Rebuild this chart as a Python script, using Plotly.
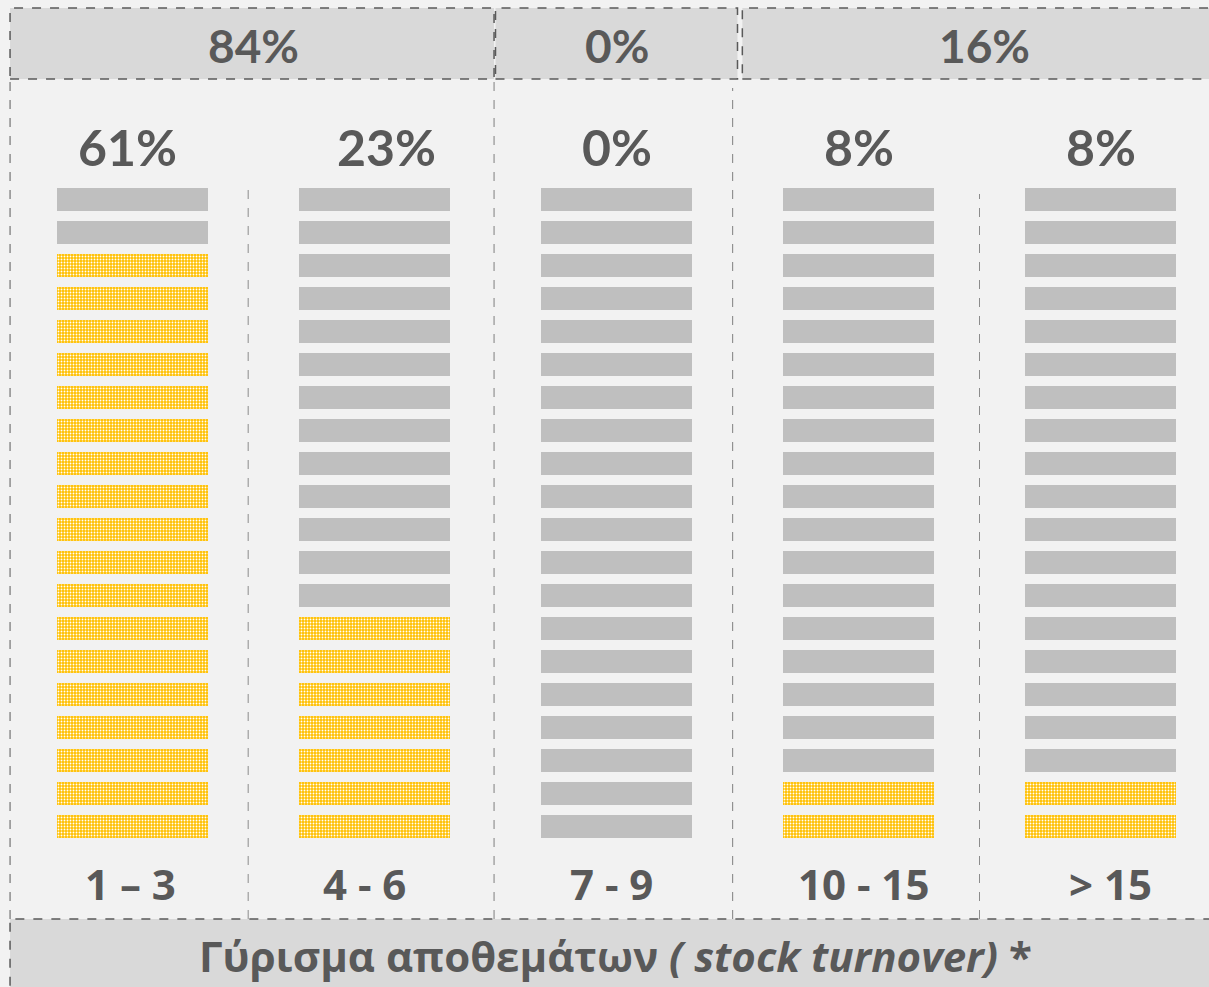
import plotly.graph_objects as go

# --- data ---
columns = ["1 – 3", "4 - 6", "7 - 9", "10 - 15", "> 15"]
column_pcts = ["61%", "23%", "0%", "8%", "8%"]
filled_segments = [18, 7, 0, 2, 2]   # yellow segments per column, counted from the bottom
total_segments = 20

group_labels = ["84%", "0%", "16%"]
group_spans = [(0, 1), (2, 2), (3, 4)]   # first and last column of each group
footer_text = "Γύρισμα αποθεμάτων <i>( stock turnover)</i> *"

W, H = 1209, 987
BG = "#f2f2f2"
GREY_BAR = "#bfbfbf"
YELLOW = "#ffc000"
TEXT = "#595959"
seg_h = 0.7


def py(px):  # pixel row -> paper y
    return 1 - px / H


fig = go.Figure()

gx, gb, yx, yb = [], [], [], []
for c, n in enumerate(filled_segments):
    for i in range(total_segments):
        if i < n:
            yx.append(c)
            yb.append(i)
        else:
            gx.append(c)
            gb.append(i)

fig.add_trace(go.Bar(x=gx, y=[seg_h] * len(gx), base=gb, width=0.624,
                     marker=dict(color=GREY_BAR, line=dict(width=0)),
                     hoverinfo="skip", showlegend=False))
fig.add_trace(go.Bar(x=yx, y=[seg_h] * len(yx), base=yb, width=0.624,
                     marker=dict(color=YELLOW, line=dict(width=0),
                                 pattern=dict(shape=".", size=3, solidity=0.3,
                                              fgcolor="white", bgcolor=YELLOW,
                                              fgopacity=1)),
                     hoverinfo="skip", showlegend=False))

shapes = []
annotations = []


def label(x, y, text, family, size, xref="x"):
    annotations.append(dict(x=x, y=y, xref=xref, yref="paper", text=text,
                            showarrow=False, xanchor="center", yanchor="middle",
                            font=dict(family=family, size=size, color=TEXT)))


# group header boxes
left_edges = [-0.506, 1.5, 2.52]
right_edges = [1.494, 2.50, 4.6]
for (a, b), lab, x0, x1 in zip(group_spans, group_labels, left_edges, right_edges):
    shapes.append(dict(type="rect", xref="x", yref="paper", x0=x0, x1=x1,
                       y0=py(79), y1=py(8), fillcolor="#d9d9d9",
                       line=dict(color=TEXT, width=1.5, dash="dash"), layer="below"))
    label((a + b) / 2 + (0.02 if a == 3 else 0), py(46), f"<b>{lab}</b>", "Lato", 46)

# footer box
shapes.append(dict(type="rect", xref="x", yref="paper", x0=-0.506, x1=4.6,
                   y0=py(1000), y1=py(919), fillcolor="#d9d9d9",
                   line=dict(color=TEXT, width=1.5, dash="dash"), layer="below"))
label(615 / W, py(955), f"<b>{footer_text}</b>", "Open Sans", 42, xref="paper")

# vertical dividers
for xv, top, col in [(-0.506, 80, TEXT), (1.494, 80, "#7f7f7f"), (2.48, 88, "#7f7f7f"),
                     (0.478, 186, "#8c8c8c"), (3.5, 194, "#8c8c8c")]:
    shapes.append(dict(type="line", xref="x", yref="paper", x0=xv, x1=xv,
                       y0=py(919), y1=py(top), line=dict(color=col, width=1, dash="dash"),
                       layer="below"))

# column percentages and labels
pct_dx = [-0.02, 0.05, 0, 0, 0]
lab_dx = [-0.01, -0.04, -0.02, 0.02, 0.04]
for c, (lab, pct) in enumerate(zip(columns, column_pcts)):
    label(c + pct_dx[c], py(147), f"<b>{pct}</b>", "Lato", 50)
    label(c + lab_dx[c], py(883), f"<b>{lab}</b>", "Open Sans", 42)

fig.update_layout(
    width=W, height=H, margin=dict(l=0, r=0, t=0, b=0),
    paper_bgcolor=BG, plot_bgcolor=BG, barmode="overlay",
    shapes=shapes, annotations=annotations,
    xaxis=dict(range=[-132.5 / 242, (W - 132.5) / 242], visible=False, fixedrange=True),
    yaxis=dict(range=[(838 - H) / 33, 838 / 33], visible=False, fixedrange=True),
)

fig.write_html("out.html", config={"displayModeBar": False},
               post_script="document.body.style.margin='0';")
